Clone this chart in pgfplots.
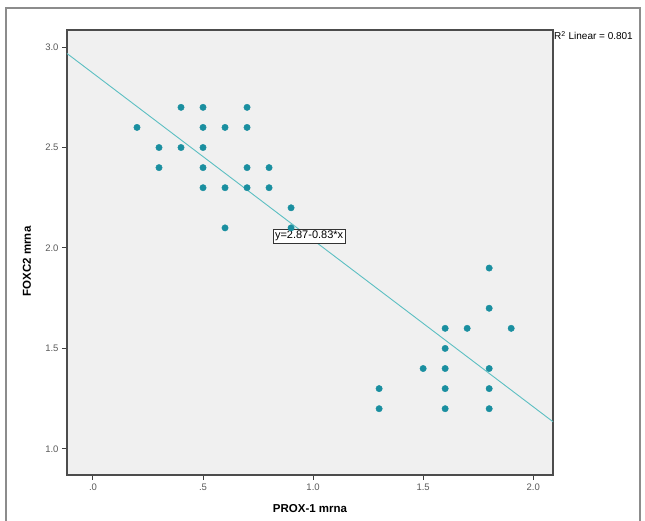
\documentclass[border=0pt]{standalone}
\usepackage{pgfplots}
\pgfplotsset{compat=1.18}
\usepackage{fontspec}
\setmainfont{Liberation Sans}
\definecolor{dotc}{HTML}{1A8FA0}
\definecolor{fitc}{HTML}{5CBFC2}
\definecolor{plotbg}{HTML}{F0F0F0}
\definecolor{framec}{HTML}{8C8C8C}
\begin{document}
\begin{tikzpicture}[x=1pt,y=1pt]
\useasboundingbox (0,0) rectangle (645,521);
\draw[framec,line width=1.2pt] (6,-3) rectangle (640,513);
\begin{axis}[at={(67pt,46pt)},anchor=south west,
    scale only axis,width=486pt,height=445pt,
    xmin=-0.118,xmax=2.09,ymin=0.87,ymax=3.085,
    axis background/.style={fill=plotbg},
    axis line style={draw=black!70,line width=1.3pt},
    tick align=outside,xtick pos=bottom,ytick pos=left,
    major tick length=5pt,
    tick style={black!75,line width=1pt},
    xtick={0,0.5,1,1.5,2},xticklabels={.0,.5,1.0,1.5,2.0},
    ytick={1,1.5,2,2.5,3},yticklabels={1.0,1.5,2.0,2.5,3.0},
    tick label style={font=\fontsize{9.5}{11}\selectfont,text=black!65},
    /pgf/number format/assume math mode=true,
    xlabel={PROX-1 mrna},ylabel={FOXC2 mrna},
    label style={font=\fontsize{11.5}{13}\selectfont\bfseries},
    xlabel style={at={(rel axis cs:0.5,0)},anchor=center,yshift=-34pt},
    ylabel style={at={(rel axis cs:0,0.48)},anchor=center,yshift=40pt},
    clip=false]
\addplot[fitc,line width=0.9pt] coordinates {(-0.118,2.968)(2.09,1.135)};
\addplot[only marks,mark=*,mark size=3.2pt,color=dotc] coordinates {
(0.2,2.6)
(0.3,2.5)(0.3,2.4)
(0.4,2.7)(0.4,2.5)
(0.5,2.7)(0.5,2.6)(0.5,2.5)(0.5,2.4)(0.5,2.3)
(0.6,2.6)(0.6,2.3)(0.6,2.1)
(0.7,2.7)(0.7,2.6)(0.7,2.4)(0.7,2.3)
(0.8,2.4)(0.8,2.3)
(0.9,2.2)(0.9,2.1)
(1.3,1.3)(1.3,1.2)
(1.5,1.4)
(1.6,1.6)(1.6,1.5)(1.6,1.4)(1.6,1.3)(1.6,1.2)
(1.7,1.6)
(1.8,1.9)(1.8,1.7)(1.8,1.4)(1.8,1.3)(1.8,1.2)
(1.9,1.6)
};
\node[draw=black!80,fill=white,line width=0.8pt,inner sep=2pt,font=\fontsize{11}{12}\selectfont]
  at (axis cs:0.982,2.06) {y=2.87-0.83*x};
\node[anchor=north west,inner sep=1pt,xshift=0pt,font=\fontsize{10}{11}\selectfont]
  at (rel axis cs:1,1) {R\textsuperscript{2} Linear = 0.801};
\end{axis}
\end{tikzpicture}
\end{document}
